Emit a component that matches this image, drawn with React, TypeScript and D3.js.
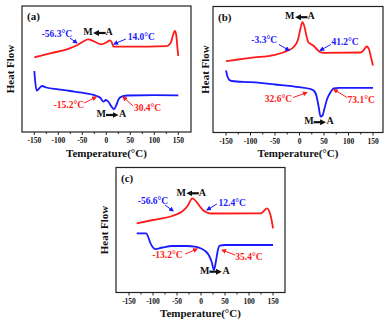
import React from "react";
import * as d3 from "d3";

// ---------- data (temperature °C, heat flow a.u.) ----------
const xTicks = [-150, -100, -50, 0, 50, 100, 150];
const xMinorTicks = [-125, -75, -25, 25, 75, 125];

const redA: [number, number][] = [
  [-150, 74.7], [-117, 78.7], [-82, 82.7], [-60, 87], [-48, 90.5], [-38, 92.7], [-25, 90.5],
  [-10, 87.7], [0, 89.5], [8, 91.7], [12, 89], [15, 85.3], [50, 85.3], [125, 85.8],
  [134, 89], [139, 97], [143, 101], [146, 96], [148, 85], [150, 76],
];
const blueA: [number, number][] = [
  [-150, 61], [-148, 50], [-145, 41.3], [-140, 43.5], [-134, 46], [-125, 44.5], [-100, 42.7],
  [-75, 41], [-50, 39.3], [-30, 37.5], [-20, 36], [-12, 34], [-6, 30.3], [-1, 32],
  [4, 30.5], [10, 26], [16, 22.7], [21, 27], [26, 33], [32, 35.3], [45, 36.5],
  [100, 36.8], [150, 36.7],
];
const redB: [number, number][] = [
  [-150, 71.3], [-125, 73], [-100, 74.7], [-50, 77.7], [-24, 82], [-12, 85.5], [-3, 93],
  [2, 104], [6, 110.3], [10, 106], [14, 97], [18, 90.3], [28, 87], [36, 83], [42, 80.5],
  [50, 79.7], [125, 80], [131, 82.5], [137, 86], [142, 83], [146, 75], [150, 67],
];
const blueB: [number, number][] = [
  [-150, 62], [-147, 56], [-143, 52.5], [-138, 51.5], [-100, 50.3], [-50, 48], [0, 45.3],
  [22, 43.5], [30, 41.5], [35, 36], [39, 26], [43, 16], [47, 17], [51, 24], [56, 33],
  [63, 40], [70, 44.2], [80, 44.7], [150, 44.7],
];
const redC: [number, number][] = [
  [-134, 69.2], [-100, 72.5], [-60, 76.5], [-50, 78.2], [-38, 81.5], [-28, 86.5], [-18, 94.2],
  [-10, 91], [-3, 86.5], [5, 82], [11, 80.2], [20, 79], [125, 79.2], [131, 81.5],
  [137, 84.2], [142, 81.5], [146, 75], [150, 64.2],
];
const blueC: [number, number][] = [
  [-134, 59.2], [-114, 59.2], [-110, 55.5], [-105, 49], [-100, 45], [-95, 43.4], [-80, 45],
  [-60, 46.5], [-30, 46.5], [-13, 45.8], [0, 44], [10, 41], [16, 37.5], [22, 31],
  [27, 22.5], [31, 31], [35, 42], [39, 46.8], [50, 47.5], [150, 47.5],
];

type Note = { text: string; color: string; tx: number; tv: number; from: [number, number]; to: [number, number] };
type Trans = { dir: "left" | "right"; t: number; v: number };

const notesA: Note[] = [
  { text: "-56.3°C", color: "#1a1aff", tx: -103, tv: 97, from: [-76, 94], to: [-61, 89] },
  { text: "14.0°C", color: "#1a1aff", tx: 73, tv: 94, from: [41, 93], to: [16, 88] },
  { text: "-15.2°C", color: "#ff1a1a", tx: -78, tv: 26, from: [-46, 29], to: [-21, 35] },
  { text: "30.4°C", color: "#ff1a1a", tx: 86, tv: 23, from: [56, 26], to: [35, 35] },
];
const transA: Trans[] = [{ dir: "left", t: -15, v: 99 }, { dir: "right", t: 13, v: 17 }];

const notesB: Note[] = [
  { text: "-3.3°C", color: "#1a1aff", tx: -72, tv: 91.3, from: [-42, 88], to: [-21, 82] },
  { text: "41.2°C", color: "#1a1aff", tx: 93, tv: 89.3, from: [64, 88], to: [42, 82] },
  { text: "32.6°C", color: "#ff1a1a", tx: -43, tv: 33, from: [-13, 35], to: [15, 40] },
  { text: "73.1°C", color: "#ff1a1a", tx: 126, tv: 32, from: [97, 35], to: [70, 43] },
];
const transB: Trans[] = [{ dir: "left", t: 3, v: 115.3 }, { dir: "right", t: 42, v: 10.3 }];

const notesC: Note[] = [
  { text: "-56.6°C", color: "#1a1aff", tx: -100, tv: 90.8, from: [-75, 87.5], to: [-58, 81.5] },
  { text: "12.4°C", color: "#1a1aff", tx: 65, tv: 88.2, from: [33, 88.5], to: [12.5, 82.5] },
  { text: "-13.2°C", color: "#ff1a1a", tx: -70, tv: 36.8, from: [-33, 38.5], to: [-8, 43.5] },
  { text: "35.4°C", color: "#ff1a1a", tx: 100, tv: 34.8, from: [71, 37.5], to: [44, 42.5] },
];
const transC: Trans[] = [{ dir: "left", t: -18, v: 99.2 }, { dir: "right", t: 31, v: 20.8 }];

const RED = "#ff1a1a";
const BLUE = "#1a1aff";
const FONT = "'Liberation Serif', 'Times New Roman', serif";

type PanelProps = {
  id: string;
  label: string;
  left: number; right: number; top: number; bottom: number;
  x0: number; x1: number; // pixel positions of -150 and 150
  red: [number, number][]; blue: [number, number][];
  notes: Note[]; trans: Trans[];
  yLabelX: number; titleY: number;
};

function Panel(p: PanelProps) {
  const x = d3.scaleLinear().domain([-150, 150]).range([p.x0, p.x1]);
  const y = d3.scaleLinear().domain([0, p.bottom - p.top]).range([p.bottom, p.top]);
  const line = d3.line<[number, number]>().x((d) => x(d[0])).y((d) => y(d[1])).curve(d3.curveMonotoneX);
  const cx = (p.left + p.right) / 2;
  const cy = (p.top + p.bottom) / 2;
  return (
    <g>
      <rect x={p.left} y={p.top} width={p.right - p.left} height={p.bottom - p.top} fill="none" stroke="#222" strokeWidth={1.2} />
      {xTicks.map((t) => (
        <g key={"t" + t}>
          <line x1={x(t)} x2={x(t)} y1={p.bottom} y2={p.bottom + 3} stroke="#222" strokeWidth={1} />
          <text x={x(t)} y={p.bottom + 11} fontSize={7.5} fontWeight="bold" textAnchor="middle" fontFamily={FONT} fill="#111">{t}</text>
        </g>
      ))}
      {xMinorTicks.map((t) => (
        <line key={"m" + t} x1={x(t)} x2={x(t)} y1={p.bottom} y2={p.bottom + 2} stroke="#222" strokeWidth={1} />
      ))}
      <text x={cx} y={p.titleY} fontSize={11} fontWeight="bold" textAnchor="middle" fontFamily={FONT} fill="#111">Temperature(°C)</text>
      <text transform={`translate(${p.yLabelX},${cy}) rotate(-90)`} fontSize={11} fontWeight="bold" textAnchor="middle" dominantBaseline="middle" fontFamily={FONT} fill="#111">Heat Flow</text>
      <text x={p.left + 5} y={p.top + 14} fontSize={11} fontWeight="bold" fontFamily={FONT} fill="#111">{p.label}</text>
      <path d={line(p.red) || ""} fill="none" stroke={RED} strokeWidth={1.8} />
      <path d={line(p.blue) || ""} fill="none" stroke={BLUE} strokeWidth={1.8} />
      {p.notes.map((n, i) => (
        <g key={"n" + i}>
          <text x={x(n.tx)} y={y(n.tv)} fontSize={9.5} fontWeight="bold" textAnchor="middle" dominantBaseline="middle" fontFamily={FONT} fill={n.color}>{n.text}</text>
          <line x1={x(n.from[0])} y1={y(n.from[1])} x2={x(n.to[0])} y2={y(n.to[1])} stroke={n.color} strokeWidth={1} markerEnd={`url(#ah-${n.color === RED ? "r" : "b"})`} />
        </g>
      ))}
      {p.trans.map((tr, i) => {
        const px = x(tr.t);
        const py = y(tr.v);
        return (
          <g key={"tr" + i}>
            <text x={px - 6.5} y={py} fontSize={10} fontWeight="bold" textAnchor="end" dominantBaseline="middle" fontFamily={FONT} fill="#111">M</text>
            <text x={px + 6.5} y={py} fontSize={10} fontWeight="bold" textAnchor="start" dominantBaseline="middle" fontFamily={FONT} fill="#111">A</text>
            <line x1={tr.dir === "left" ? px + 6.5 : px - 6.5} x2={tr.dir === "left" ? px - 3 : px + 3} y1={py} y2={py} stroke="#111" strokeWidth={2.2} markerEnd="url(#ah-k)" />
          </g>
        );
      })}
    </g>
  );
}

export default function App() {
  return (
    <svg width={391} height={321} style={{ position: "absolute", left: 0, top: 0, background: "#fff" }}>
      <defs>
        <marker id="ah-r" viewBox="0 0 10 10" refX="8" refY="5" markerWidth="5" markerHeight="5" orient="auto" markerUnits="userSpaceOnUse">
          <path d="M0,0 L10,5 L0,10 z" fill={RED} />
        </marker>
        <marker id="ah-b" viewBox="0 0 10 10" refX="8" refY="5" markerWidth="5" markerHeight="5" orient="auto" markerUnits="userSpaceOnUse">
          <path d="M0,0 L10,5 L0,10 z" fill={BLUE} />
        </marker>
        <marker id="ah-k" viewBox="0 0 10 10" refX="5" refY="5" markerWidth="6" markerHeight="6" orient="auto" markerUnits="userSpaceOnUse">
          <path d="M0,0 L10,5 L0,10 z" fill="#111" />
        </marker>
      </defs>
      <Panel id="a" label="(a)" left={22} right={191} top={6} bottom={132} x0={34.3} x1={178.3}
        red={redA} blue={blueA} notes={notesA} trans={transA} yLabelX={11} titleY={157} />
      <Panel id="b" label="(b)" left={213} right={383} top={6.5} bottom={132.5} x0={226} x1={373}
        red={redB} blue={blueB} notes={notesB} trans={transB} yLabelX={206} titleY={157} />
      <Panel id="c" label="(c)" left={116} right={285} top={167.5} bottom={292.5} x0={129} x1={273}
        red={redC} blue={blueC} notes={notesC} trans={transC} yLabelX={105} titleY={317} />
    </svg>
  );
}
